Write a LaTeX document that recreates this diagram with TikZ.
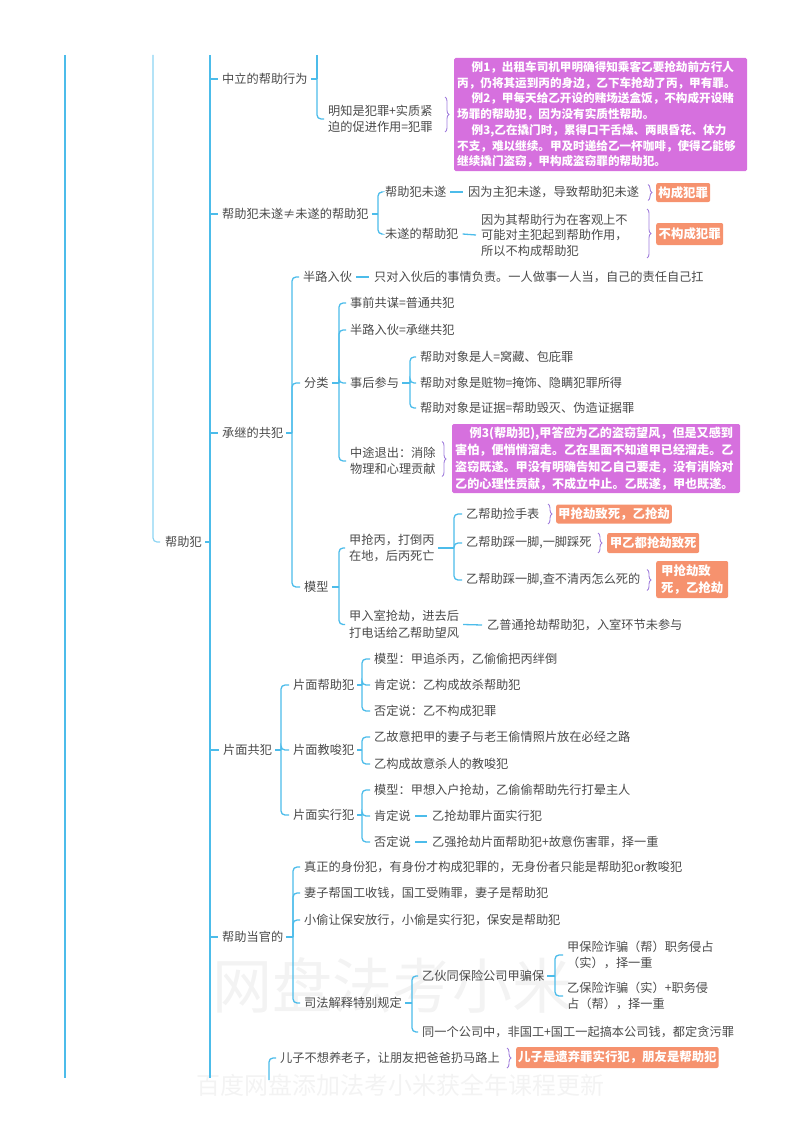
\documentclass[tikz,border=0pt]{standalone}
\usepackage{fontspec}
\setmainfont{Noto Sans CJK SC}
\usetikzlibrary{calc,decorations.pathreplacing}
\definecolor{lb}{RGB}{76,188,234}
\definecolor{lbl}{RGB}{140,212,242}
\definecolor{tc}{RGB}{74,74,74}
\definecolor{pk}{RGB}{214,112,222}
\definecolor{og}{RGB}{246,146,110}
\definecolor{brc}{RGB}{160,125,220}
\definecolor{wmc}{RGB}{243,243,243}
\newcommand\mmbranch[3]{%
  \draw[conn] ($(#1.east)+(3,0)$) -- (#1.east -| #2);
  \foreach \cc in {#3}{\draw[conn] (#1.east -| #2) |- ($(\cc.west)+(-4,0)$);}%
}
\newcommand\mmdash[2]{\draw[conn] ($(#1.east)+(4,0)$) -- ($(#2.west)+(-5,0)$);}
\begin{document}
\begin{tikzpicture}[x=1pt,y=-1pt,
  txt/.style={anchor=west,inner sep=0pt,text=tc,font=\fontsize{12.2}{15.5}\selectfont,align=left},
  conn/.style={draw=lb,line width=1.3pt,rounded corners=4pt},
  trunk/.style={draw=lb,line width=2pt},
  pinkbox/.style={anchor=west,fill=pk,text=white,rounded corners=1.5pt,inner xsep=3pt,inner ysep=2pt,align=left},
  orbox/.style={anchor=west,fill=og,text=white,rounded corners=2pt,inner xsep=2pt,inner ysep=1pt,align=center,font=\fontsize{12.4}{17}\selectfont\bfseries},
  bracestyle/.style={draw=brc,line width=0.9pt,decorate,decoration={brace,amplitude=4pt}},
  wmark/.style={anchor=west,inner sep=0pt,text=wmc},
]
\useasboundingbox (0,0) rectangle (800,1132);
% watermark
\node[wmark,font=\fontsize{60}{60}\selectfont] (wm1) at (212,985) {网盘法考小米};
\node[wmark,font=\fontsize{24}{24}\selectfont] (wm2) at (196,1085) {百度网盘添加法考小米获全年课程更新};

% trunk coordinates
\coordinate (t65a) at (65,55);  \coordinate (t65b) at (65,1078);
\coordinate (t153) at (153,55);
\coordinate (t210a) at (210,55); \coordinate (t210b) at (210,1078);
\coordinate (b1top) at (317,55);
\coordinate (b1) at (317,0);  \coordinate (b2) at (378,0);
\coordinate (b3) at (292,0);  \coordinate (b4) at (339,0);
\coordinate (b5) at (410,0);  \coordinate (b6) at (339,0);
\coordinate (b7) at (454,0);  \coordinate (b8) at (281,0);
\coordinate (b9) at (362,0);  \coordinate (b10) at (293,0);
\coordinate (b11) at (412,0); \coordinate (b12) at (555,0);
\coordinate (ezb) at (269,1080);

% nodes
\node[txt] (bzf) at (165,542) {帮助犯};
\node[txt] (zl) at (222,79) {中立的帮助行为};
\node[txt] (mz) at (328,119) {明知是犯罪+实质紧\\迫的促进作用=犯罪};
\node[pinkbox,text width=287pt,minimum height=113pt,font=\fontsize{11.6}{15.7}\selectfont\bfseries] (pk1) at (454,114.5) {\hspace*{1.25em}例1，出租车司机甲明确得知乘客乙要抢劫前方行人\\丙，仍将其运到丙的身边，乙下车抢劫了丙，甲有罪。\\\hspace*{1.25em}例2，甲每天给乙开设的赌场送盒饭，不构成开设赌\\场罪的帮助犯，因为没有实质性帮助。\\\hspace*{1.25em}例3,乙在撬门时，累得口干舌燥、两眼昏花、体力\\不支，难以继续。甲及时递给乙一杯咖啡，使得乙能够\\继续撬门盗窃，甲构成盗窃罪的帮助犯。};

\node[txt] (wsn) at (222,214) {帮助犯未遂≠未遂的帮助犯};
\node[txt] (ws1) at (385,192) {帮助犯未遂};
\node[txt] (ws1a) at (468,192) {因为主犯未遂，导致帮助犯未遂};
\node[orbox,minimum width=54pt,minimum height=19pt] (og1) at (656,192.5) {构成犯罪};
\node[txt] (ws2) at (385,234) {未遂的帮助犯};
\node[txt] (ws2a) at (481,235) {因为其帮助行为在客观上不\\可能对主犯起到帮助作用，\\所以不构成帮助犯};
\node[orbox,minimum width=67pt,minimum height=22pt] (og2) at (656,234) {不构成犯罪};

\node[txt] (cj) at (222,433) {承继的共犯};
\node[txt] (bl) at (303,277) {半路入伙};
\node[txt] (bla) at (374,277) {只对入伙后的事情负责。一人做事一人当，自己的责任自己扛};
\node[txt] (fl) at (304,383) {分类};
\node[txt] (fl1) at (350,303) {事前共谋=普通共犯};
\node[txt] (fl2) at (350,330) {半路入伙=承继共犯};
\node[txt] (fl3) at (350,383) {事后参与};
\node[txt] (fl3a) at (420,357) {帮助对象是人=窝藏、包庇罪};
\node[txt] (fl3b) at (420,383) {帮助对象是赃物=掩饰、隐瞒犯罪所得};
\node[txt] (fl3c) at (420,408) {帮助对象是证据=帮助毁灭、伪造证据罪};
\node[txt,font=\fontsize{12.2}{16.5}\selectfont] (fl4) at (350,461) {中途退出：消除\\物理和心理贡献};
\node[pinkbox,text width=282pt,minimum height=69pt,font=\fontsize{12.1}{17}\selectfont\bfseries] (pk2) at (452,458.5) {\hspace*{1.2em}例3(帮助犯),甲答应为乙的盗窃望风，但是又感到\\害怕，便悄悄溜走。乙在里面不知道甲已经溜走。乙\\盗窃既遂。甲没有明确告知乙自己要走，没有消除对\\乙的心理性贡献，不成立中止。乙既遂，甲也既遂。};

\node[txt] (mx) at (304,587) {模型};
\node[txt,font=\fontsize{12.2}{16.5}\selectfont] (mx1) at (349,548) {甲抢丙，打倒丙\\在地，后丙死亡};
\node[txt] (mx1a) at (466,514) {乙帮助捡手表};
\node[orbox,minimum width=115pt,minimum height=19pt] (og3) at (556,514) {甲抢劫致死，乙抢劫};
\node[txt] (mx1b) at (466,543) {乙帮助踩一脚,一脚踩死};
\node[orbox,minimum width=92pt,minimum height=20pt] (og4) at (607,543) {甲乙都抢劫致死};
\node[txt] (mx1c) at (466,580) {乙帮助踩一脚,查不清丙怎么死的};
\node[orbox,minimum width=72pt,minimum height=37pt,align=left] (og5) at (656,579.5) {甲抢劫致\\死，乙抢劫};
\node[txt,font=\fontsize{12.2}{16.5}\selectfont] (mx2) at (349,624.5) {甲入室抢劫，进去后\\打电话给乙帮助望风};
\node[txt] (mx2a) at (487,625) {乙普通抢劫帮助犯，入室环节未参与};

\node[txt] (pm) at (223,750) {片面共犯};
\node[txt] (pm1) at (293,685) {片面帮助犯};
\node[txt] (pm1a) at (374,659) {模型：甲追杀丙，乙偷偷把丙绊倒};
\node[txt] (pm1b) at (374,685) {肯定说：乙构成故杀帮助犯};
\node[txt] (pm1c) at (374,711) {否定说：乙不构成犯罪};
\node[txt] (pm2) at (293,750) {片面教唆犯};
\node[txt] (pm2a) at (374,737) {乙故意把甲的妻子与老王偷情照片放在必经之路};
\node[txt] (pm2b) at (374,764) {乙构成故意杀人的教唆犯};
\node[txt] (pm3) at (293,815) {片面实行犯};
\node[txt] (pm3a) at (374,790) {模型：甲想入户抢劫，乙偷偷帮助先行打晕主人};
\node[txt] (pm3b) at (374,816) {肯定说};
\node[txt] (pm3bx) at (432,816) {乙抢劫罪片面实行犯};
\node[txt] (pm3c) at (374,842) {否定说};
\node[txt] (pm3cx) at (432,842) {乙强抢劫片面帮助犯+故意伤害罪，择一重};

\node[txt] (gd) at (222,937) {帮助当官的};
\node[txt] (gd1) at (304,867) {真正的身份犯，有身份才构成犯罪的，无身份者只能是帮助犯or教唆犯};
\node[txt] (gd2) at (304,893) {妻子帮国工收钱，国工受贿罪，妻子是帮助犯};
\node[txt] (gd3) at (304,920) {小偷让保安放行，小偷是实行犯，保安是帮助犯};
\node[txt] (gd4) at (304,1003) {司法解释特别规定};
\node[txt] (gd4a) at (422,976) {乙伙同保险公司甲骗保};
\node[txt,font=\fontsize{12.2}{16.5}\selectfont] (gd4a1) at (567,955) {甲保险诈骗（帮）职务侵占\\（实），择一重};
\node[txt,font=\fontsize{12.2}{16.5}\selectfont] (gd4a2) at (567,996) {乙保险诈骗（实）+职务侵\\占（帮），择一重};
\node[txt] (gd4b) at (422,1032) {同一个公司中，非国工+国工一起搞本公司钱，都定贪污罪};

\node[txt] (ez) at (280,1058) {儿子不想养老子，让朋友把爸爸扔马路上};
\node[orbox,minimum width=202pt,minimum height=21pt] (og6) at (516,1057.5) {儿子是遗弃罪实行犯，朋友是帮助犯};

% trunks
\draw[trunk] (t65a) -- (t65b);
\draw[trunk] (t210a) -- (t210b);
\draw[conn,draw=lbl,line width=1.2pt] (t153) |- ($(bzf.west)+(-5,0)$);
\draw[conn] ($(bzf.east)+(3,0)$) -- (bzf.east -| t210a);
\foreach \cc in {zl,wsn,cj,pm,gd}{\draw[conn] (\cc.west -| t210a) -- ($(\cc.west)+(-4,0)$);}

% branches
\draw[conn] (b1top) -- (zl.east -| b1);
\mmbranch{zl}{b1}{mz}
\mmbranch{wsn}{b2}{ws1,ws2}
\mmbranch{cj}{b3}{bl,fl,mx}
\mmbranch{fl}{b4}{fl1,fl2,fl3,fl4}
\mmbranch{fl3}{b5}{fl3a,fl3b,fl3c}
\mmbranch{mx}{b6}{mx1,mx2}
\mmbranch{mx1}{b7}{mx1a,mx1b,mx1c}
\mmbranch{pm}{b8}{pm1,pm2,pm3}
\mmbranch{pm1}{b9}{pm1a,pm1b,pm1c}
\mmbranch{pm2}{b9}{pm2a,pm2b}
\mmbranch{pm3}{b9}{pm3a,pm3b,pm3c}
\mmbranch{gd}{b10}{gd1,gd2,gd3,gd4}
\mmbranch{gd4}{b11}{gd4a,gd4b}
\mmbranch{gd4a}{b12}{gd4a1,gd4a2}
\draw[conn] (ezb) |- ($(ez.west)+(-4,0)$);

% dash connectors
\mmdash{ws1}{ws1a}
\mmdash{ws2}{ws2a}
\mmdash{bl}{bla}
\mmdash{mx2}{mx2a}
\mmdash{pm3b}{pm3bx}
\mmdash{pm3c}{pm3cx}

% braces
\draw[bracestyle] ($(pk1.west)+(-9,-17.5)$) -- ($(pk1.west)+(-9,17.5)$);
\draw[bracestyle] ($(og1.west)+(-8,-8)$) -- ($(og1.west)+(-8,8)$);
\draw[bracestyle] ($(og2.west)+(-9,-25)$) -- ($(og2.west)+(-9,24)$);
\draw[bracestyle] ($(pk2.west)+(-10,-17)$) -- ($(pk2.west)+(-10,18)$);
\draw[bracestyle] ($(og3.west)+(-8,-10)$) -- ($(og3.west)+(-8,10)$);
\draw[bracestyle] ($(og4.west)+(-9,-10)$) -- ($(og4.west)+(-9,10)$);
\draw[bracestyle] ($(og5.west)+(-9,-10)$) -- ($(og5.west)+(-9,11)$);
\draw[bracestyle] ($(og6.west)+(-9,-9.5)$) -- ($(og6.west)+(-9,10.5)$);
\end{tikzpicture}
\end{document}
